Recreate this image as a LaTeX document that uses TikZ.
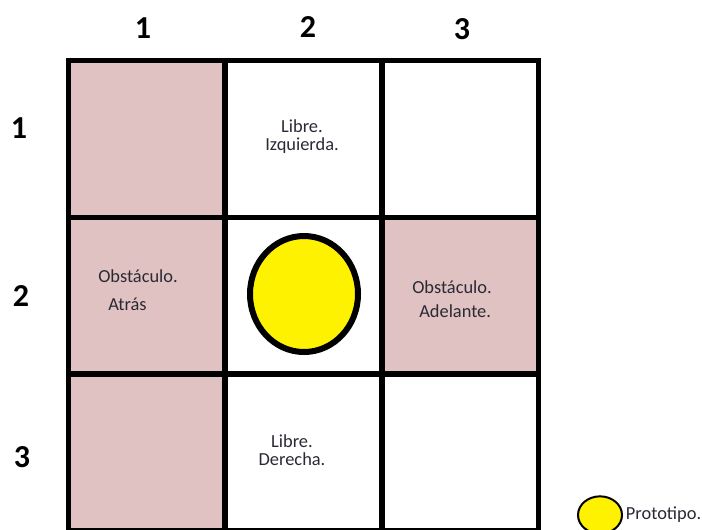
\documentclass[tikz,border=0pt]{standalone}
\usepackage{fontspec}
\setmainfont{Carlito}
\usepackage{xcolor}
\usepackage{tikz}
\usetikzlibrary{shapes.geometric}

\definecolor{obstpink}{HTML}{E0C2C2}
\definecolor{paintyellow}{HTML}{FFF200}
\definecolor{inktext}{HTML}{2A2A35}

\begin{document}
\begin{tikzpicture}[x=0.75pt, y=-0.75pt, node distance=117.56pt,
  cell/.style={rectangle, draw, line width=4.1pt, minimum size=117.56pt, inner sep=0pt},
  blocked/.style={cell, fill=obstpink},
  free/.style={cell, fill=white},
  idx/.style={font=\bfseries\fontsize{24}{24}\selectfont, inner sep=0pt},
  note/.style={font=\fontsize{13.8}{13.5}\selectfont, text=inktext, align=center, inner sep=0pt},
  robot/.style={ellipse, draw, fill=paintyellow, inner sep=0pt}]

  \useasboundingbox (0,0) rectangle (702,529);

  % grid of cells
  \node[blocked] (c11) at (146.75,139) {};
  \node[free, right of=c11] (c12) {};
  \node[free, right of=c12] (c13) {};
  \node[blocked, below of=c11] (c21) {};
  \node[free, below of=c12] (c22) {};
  \node[blocked, below of=c13] (c23) {};
  \node[blocked, below of=c21] (c31) {};
  \node[free, below of=c22] (c32) {};
  \node[free, below of=c23] (c33) {};

  % column and row numbers
  \node[idx] (col1) at (143,28) {1};
  \node[idx] (col2) at (308,27) {2};
  \node[idx] (col3) at (462,29) {3};
  \node[idx] (row1) at (19,128) {1};
  \node[idx] (row2) at (21,296) {2};
  \node[idx] (row3) at (22,457) {3};

  % cell notes
  \node[note] (n12) at (302,136.5) {Libre.\\Izquierda.};
  \node[note] (n32) at (292,450.5) {Libre.\\Derecha.};
  \node[note, anchor=west] (n21a) at (98,276) {Obstáculo.};
  \node[note, anchor=west] (n21b) at (108,304) {Atrás};
  \node[note, anchor=west] (n23a) at (412,287.5) {Obstáculo.};
  \node[note, anchor=west] (n23b) at (419,311) {Adelante.};

  % prototype
  \node[robot, minimum width=81pt, minimum height=87pt, line width=4.5pt] (proto) at (304,294) {};

  % legend
  \node[robot, minimum width=33pt, minimum height=28pt, line width=1.5pt] (leg) at (600,515) {};
  \node[note, anchor=west, xshift=2pt, yshift=0.5pt] (legtext) at (leg.east) {Prototipo.};

\end{tikzpicture}
\end{document}
